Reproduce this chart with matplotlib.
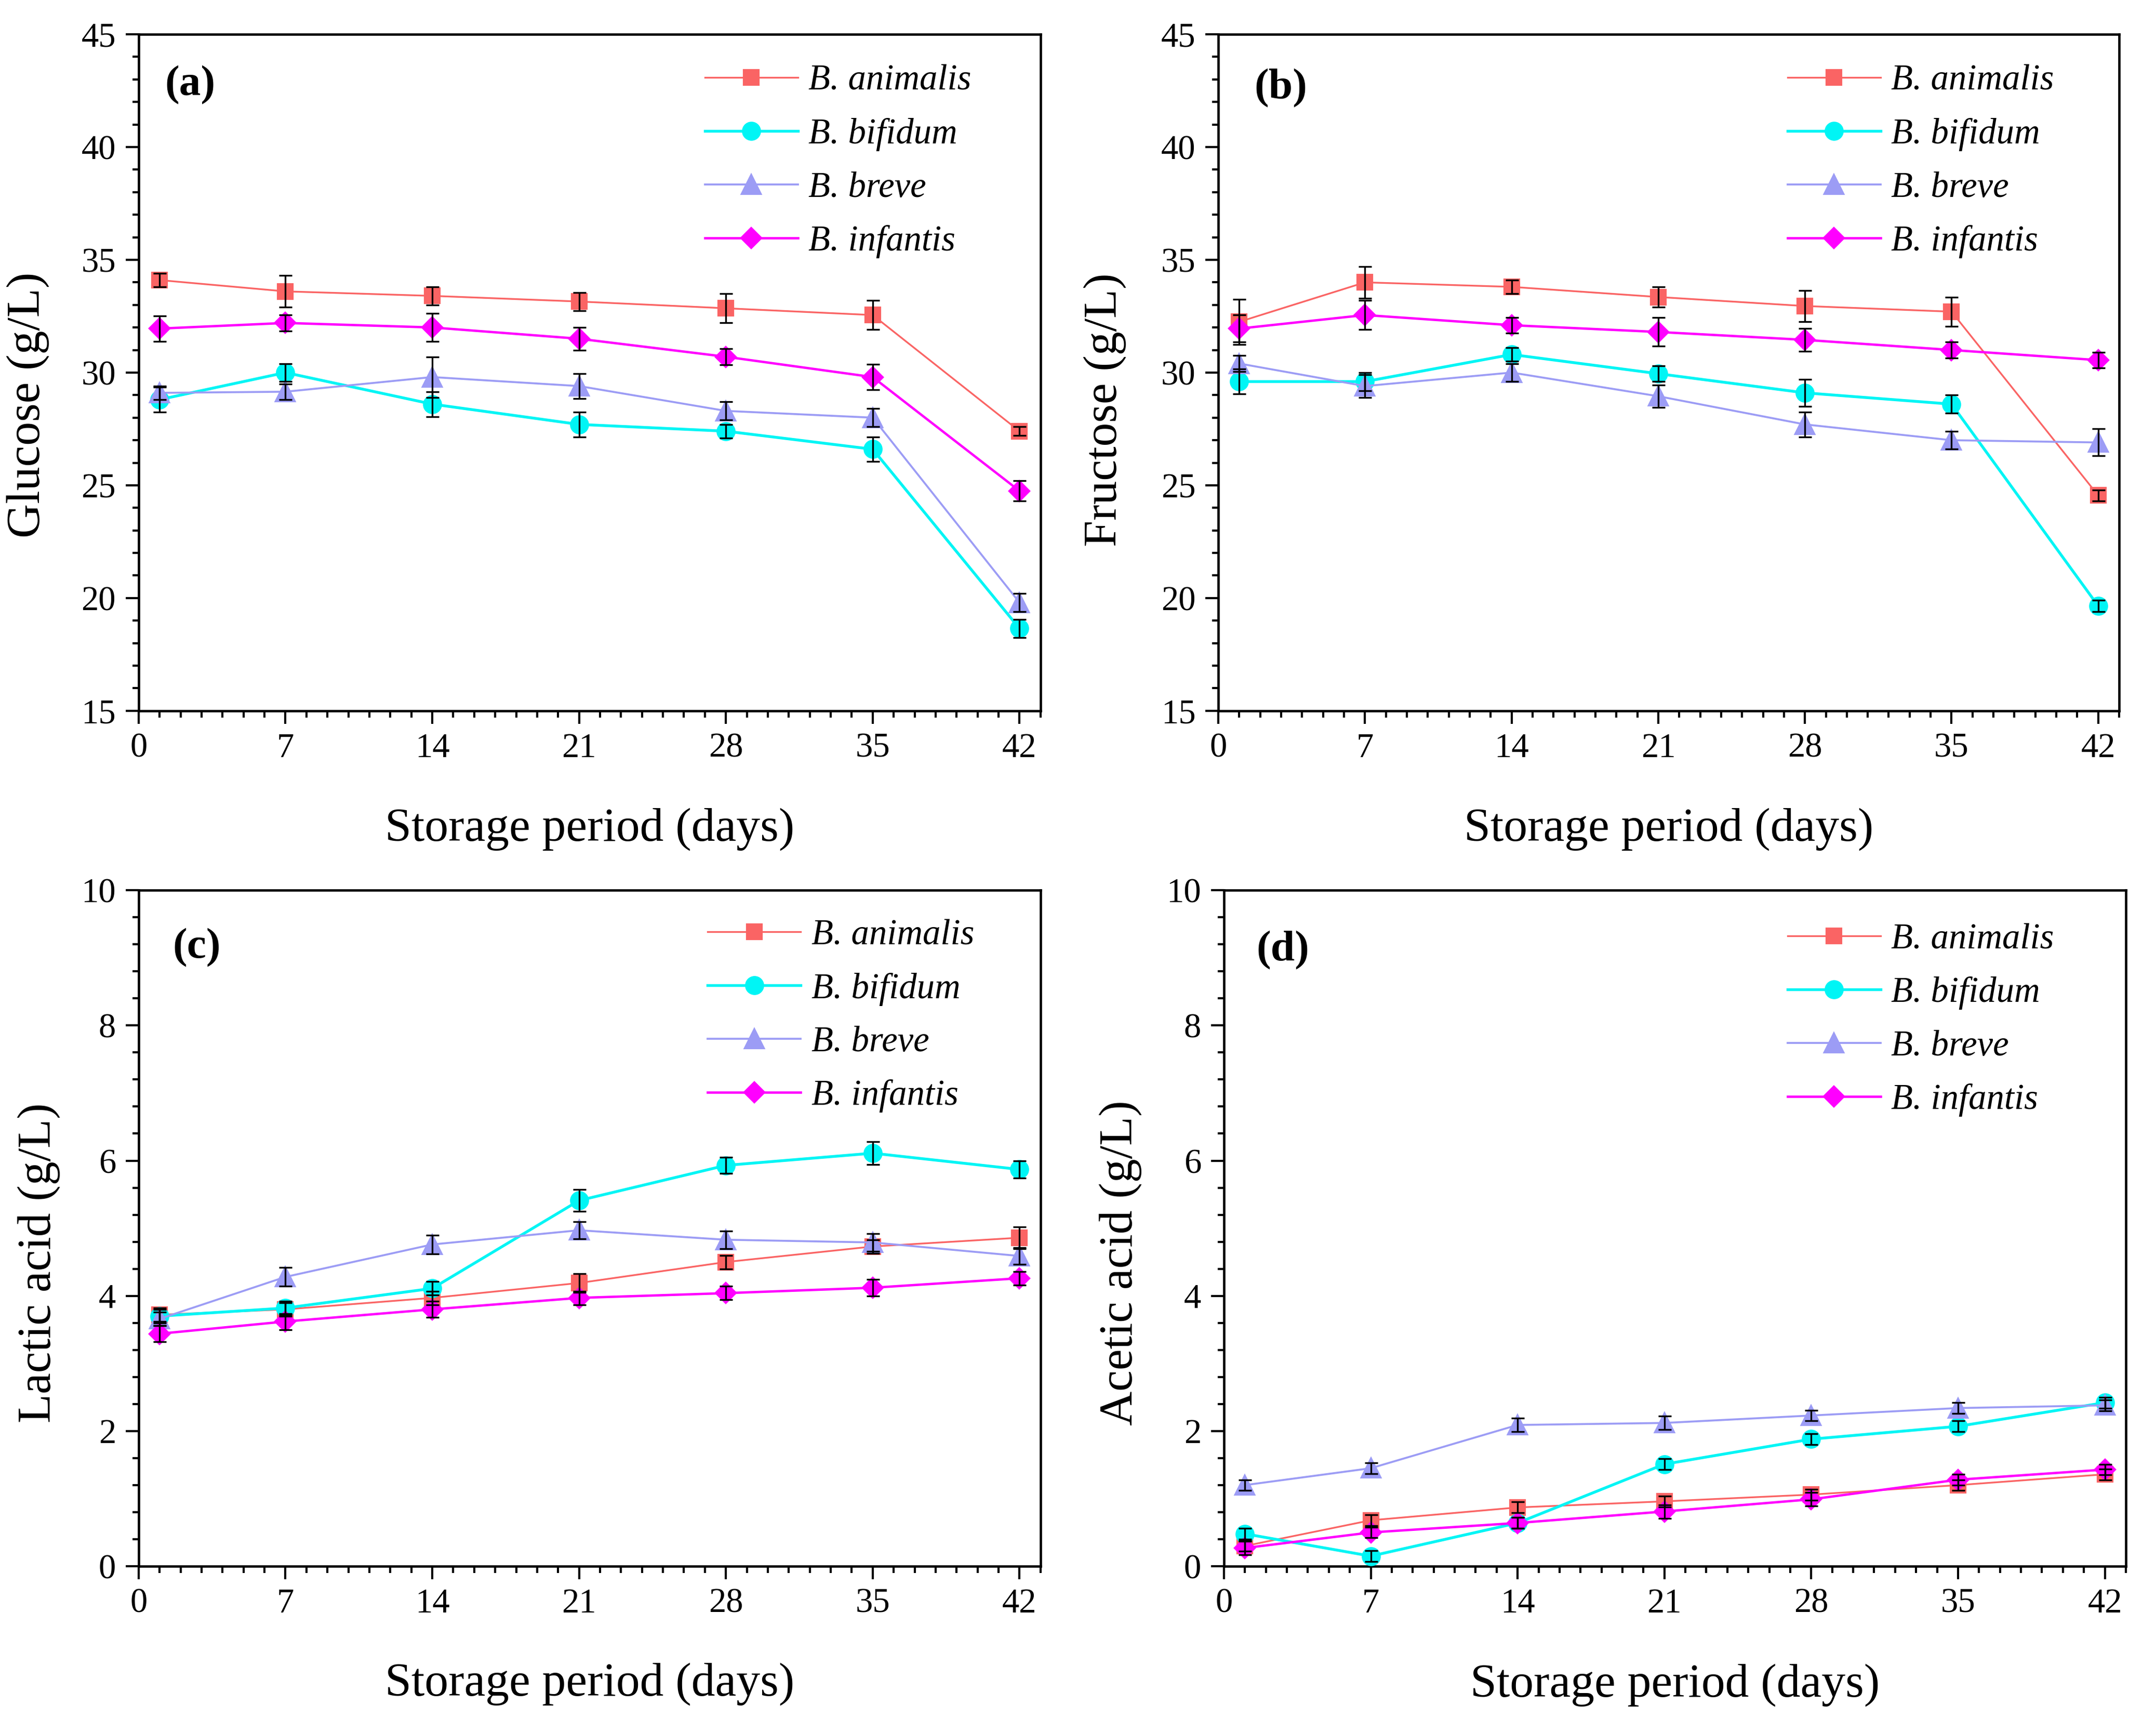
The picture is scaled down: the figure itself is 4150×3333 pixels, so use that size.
import matplotlib
matplotlib.use("Agg")
import matplotlib.pyplot as plt
from matplotlib.ticker import MultipleLocator

plt.rcParams['font.family'] = ['Liberation Serif', 'DejaVu Serif']

days = [1, 7, 14, 21, 28, 35, 42]
strains = ["B. animalis", "B. bifidum", "B. breve", "B. infantis"]

# (a) Glucose
glu_animalis = [34.1, 33.6, 33.4, 33.15, 32.85, 32.55, 27.4]
glu_bifidum = [28.8, 30.0, 28.6, 27.7, 27.4, 26.6, 18.65]
glu_breve = [29.1, 29.15, 29.8, 29.4, 28.3, 28.0, 19.8]
glu_infantis = [31.95, 32.2, 32.0, 31.5, 30.7, 29.8, 24.75]
glu_animalis_err = [0.3, 0.7, 0.4, 0.4, 0.65, 0.65, 0.2]
glu_bifidum_err = [0.55, 0.4, 0.55, 0.55, 0.3, 0.55, 0.4]
glu_breve_err = [0.3, 0.35, 0.9, 0.55, 0.4, 0.4, 0.4]
glu_infantis_err = [0.57, 0.35, 0.63, 0.5, 0.35, 0.57, 0.45]

# (b) Fructose
fru_animalis = [32.25, 34.0, 33.8, 33.35, 32.95, 32.7, 24.55]
fru_bifidum = [29.6, 29.6, 30.8, 29.95, 29.1, 28.6, 19.65]
fru_breve = [30.4, 29.4, 30.0, 28.95, 27.7, 27.0, 26.9]
fru_infantis = [31.95, 32.55, 32.1, 31.8, 31.45, 31.0, 30.55]
fru_animalis_err = [1.0, 0.7, 0.3, 0.45, 0.7, 0.65, 0.25]
fru_bifidum_err = [0.55, 0.4, 0.3, 0.35, 0.6, 0.4, 0.25]
fru_breve_err = [0.35, 0.5, 0.4, 0.5, 0.55, 0.4, 0.6]
fru_infantis_err = [0.6, 0.65, 0.35, 0.63, 0.5, 0.35, 0.35]

# (c) Lactic acid
lac_animalis = [3.72, 3.8, 3.97, 4.19, 4.5, 4.73, 4.86]
lac_bifidum = [3.7, 3.82, 4.11, 5.41, 5.93, 6.11, 5.87]
lac_breve = [3.66, 4.28, 4.76, 4.97, 4.83, 4.79, 4.59]
lac_infantis = [3.44, 3.62, 3.8, 3.97, 4.04, 4.12, 4.26]
lac_animalis_err = [0.1, 0.1, 0.1, 0.14, 0.1, 0.1, 0.16]
lac_bifidum_err = [0.1, 0.1, 0.1, 0.16, 0.12, 0.17, 0.13]
lac_breve_err = [0.1, 0.14, 0.14, 0.13, 0.13, 0.13, 0.12]
lac_infantis_err = [0.12, 0.12, 0.12, 0.1, 0.1, 0.12, 0.1]

# (d) Acetic acid
ace_animalis = [0.3, 0.68, 0.87, 0.96, 1.06, 1.2, 1.36]
ace_bifidum = [0.48, 0.15, 0.64, 1.51, 1.88, 2.07, 2.42]
ace_breve = [1.2, 1.45, 2.09, 2.12, 2.23, 2.34, 2.38]
ace_infantis = [0.27, 0.5, 0.64, 0.81, 0.99, 1.28, 1.43]
ace_animalis_err = [0.08, 0.08, 0.08, 0.08, 0.08, 0.08, 0.08]
ace_bifidum_err = [0.08, 0.08, 0.08, 0.08, 0.08, 0.08, 0.08]
ace_breve_err = [0.08, 0.08, 0.1, 0.1, 0.08, 0.08, 0.08]
ace_infantis_err = [0.1, 0.08, 0.08, 0.1, 0.1, 0.08, 0.08]

colors = ['#FA6464', '#00F5F5', '#9C9CF5', '#FF00FF']
markers = ['s', 'o', '^', 'D']
msizes = [6.5, 7.8, 8.6, 6.4]
lwidths = [0.8, 1.3, 0.9, 1.1]

panels = [
    dict(label='(a)', ylabel='Glucose (g/L)', ylim=(15, 45), major=5, minor=1,
         vals=[glu_animalis, glu_bifidum, glu_breve, glu_infantis],
         errs=[glu_animalis_err, glu_bifidum_err, glu_breve_err, glu_infantis_err],
         pos=[0.0643, 0.5896, 0.4183, 0.3906], ylc=(-0.123, 0.452), xlc=-0.175,
         leg=(0.628, 0.812), pl=(0.029, 0.925)),
    dict(label='(b)', ylabel='Fructose (g/L)', ylim=(15, 45), major=5, minor=1,
         vals=[fru_animalis, fru_bifidum, fru_breve, fru_infantis],
         errs=[fru_animalis_err, fru_bifidum_err, fru_breve_err, fru_infantis_err],
         pos=[0.5651, 0.5896, 0.4178, 0.3906], ylc=(-0.126, 0.445), xlc=-0.175,
         leg=(0.632, 0.812), pl=(0.040, 0.920)),
    dict(label='(c)', ylabel='Lactic acid (g/L)', ylim=(0, 10), major=2, minor=0.4,
         vals=[lac_animalis, lac_bifidum, lac_breve, lac_infantis],
         errs=[lac_animalis_err, lac_bifidum_err, lac_breve_err, lac_infantis_err],
         pos=[0.0643, 0.0957, 0.4183, 0.3903], ylc=(-0.111, 0.449), xlc=-0.174,
         leg=(0.631, 0.814), pl=(0.038, 0.915)),
    dict(label='(d)', ylabel='Acetic acid (g/L)', ylim=(0, 10), major=2, minor=0.4,
         vals=[ace_animalis, ace_bifidum, ace_breve, ace_infantis],
         errs=[ace_animalis_err, ace_bifidum_err, ace_breve_err, ace_infantis_err],
         pos=[0.5677, 0.0957, 0.4183, 0.3903], ylc=(-0.115, 0.449), xlc=-0.176,
         leg=(0.625, 0.808), pl=(0.036, 0.911)),
]

fig = plt.figure(figsize=(4150 / 300, 3333 / 300), dpi=300)

for p in panels:
    ax = fig.add_axes(p['pos'])
    handles = []
    for i in range(4):
        ax.errorbar(days, p['vals'][i], yerr=p['errs'][i], fmt='none',
                    ecolor='black', elinewidth=0.8, capsize=3.0, capthick=0.8,
                    zorder=4)
        h, = ax.plot(days, p['vals'][i], color=colors[i], marker=markers[i],
                     ms=msizes[i], mfc=colors[i], mec=colors[i], lw=lwidths[i],
                     zorder=3, label=strains[i])
        handles.append(h)
    ax.set_xlim(0, 43)
    ax.set_ylim(*p['ylim'])
    ax.set_xticks(range(0, 43, 7))
    ax.xaxis.set_minor_locator(MultipleLocator(1))
    ax.yaxis.set_major_locator(MultipleLocator(p['major']))
    ax.yaxis.set_minor_locator(MultipleLocator(p['minor']))
    ax.tick_params(which='both', direction='out', top=False, right=False,
                   width=1.0, labelsize=16)
    ax.tick_params(which='major', length=6)
    ax.tick_params(which='minor', length=3)
    ax.tick_params(axis='x', pad=4)
    ax.tick_params(axis='y', pad=4.5)
    for s in ax.spines.values():
        s.set_linewidth(1.1)
    ax.set_xlabel('Storage period (days)', fontsize=22, va='center')
    ax.xaxis.set_label_coords(0.5, p['xlc'])
    ax.set_ylabel(p['ylabel'], fontsize=22, va='center')
    ax.yaxis.set_label_coords(*p['ylc'])
    ax.text(p['pl'][0], p['pl'][1], p['label'], transform=ax.transAxes,
            fontsize=20, fontweight='bold', ha='left', va='center')
    ax.legend(handles=handles, loc='center left',
              bbox_to_anchor=p['leg'],
              frameon=False, prop={'style': 'italic', 'size': 16.5},
              handlelength=2.6, handletextpad=0.3, labelspacing=0.57,
              borderpad=0, borderaxespad=0)

fig.savefig('out.png', dpi=300, facecolor='white')
